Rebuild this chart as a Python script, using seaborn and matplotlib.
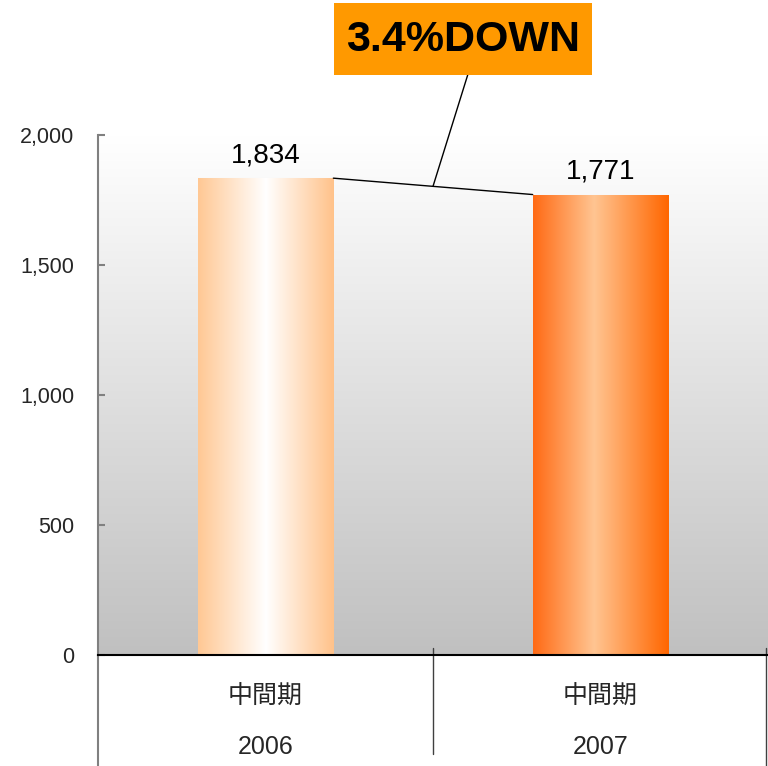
import numpy as np
import matplotlib
matplotlib.use("Agg")
import matplotlib.pyplot as plt
from matplotlib.colors import LinearSegmentedColormap
import seaborn as sns

sns.set_theme(style="white")
plt.rcParams['font.family'] = ['Liberation Sans', 'Noto Sans CJK JP']

# data
years = ["2006", "2007"]
periods = ["中間期", "中間期"]
sales = [1834, 1771]
change_label = "3.4%DOWN"

fig = plt.figure(figsize=(7.68, 7.66), dpi=100)
ax = fig.add_axes([98/768, 111/766, 670/768, 520/766])

sns.barplot(x=years, y=sales, width=0.405, color="#FFC590", ax=ax, zorder=2)

# background gradient white -> grey
bg = np.linspace(1, 0, 256).reshape(-1, 1)
bg_cmap = LinearSegmentedColormap.from_list("bg", ["#C0C0C0", "#FFFFFF"])
ax.imshow(bg, extent=[-0.5, 1.5, 0, 2000], aspect="auto", cmap=bg_cmap,
          origin="upper", zorder=0, vmin=0, vmax=1)
ax.patch.set_alpha(0)

# bar gradients
bar_cmaps = [
    LinearSegmentedColormap.from_list("b1", [(0, "#FFC894"), (0.5, "#FFFFFF"), (1, "#FFC28A")]),
    LinearSegmentedColormap.from_list("b2", [(0, "#FF6A14"), (0.45, "#FFC592"), (1, "#FF6600")]),
]
hgrad = np.linspace(0, 1, 256).reshape(1, -1)
for patch, cm in zip(ax.patches, bar_cmaps):
    x0, w, h = patch.get_x(), patch.get_width(), patch.get_height()
    patch.set_edgecolor("none")
    im = ax.imshow(hgrad, extent=[x0, x0 + w, 0, h], aspect="auto", cmap=cm,
                   zorder=3, vmin=0, vmax=1)
    im.set_clip_path(patch)
    ax.annotate(f"{int(h):,}", (x0 + w / 2, h), xytext=(0, 7), textcoords="offset points",
                ha="center", va="bottom", fontsize=20, color="black")

ax.set_xlim(-0.5, 1.5)
ax.set_ylim(0, 2000)
ax.set_yticks([0, 500, 1000, 1500, 2000])
ax.yaxis.set_major_formatter(matplotlib.ticker.FuncFormatter(lambda v, p: f"{int(v):,}"))
ax.tick_params(axis="y", direction="in", length=5, color="#808080", width=1.5,
               labelsize=15.5, pad=17, left=True)
ax.set_xticks([])
ax.set_xlabel("")
for s in ["top", "right"]:
    ax.spines[s].set_visible(False)
ax.spines["left"].set_color("#808080")
ax.spines["left"].set_linewidth(1.5)
ax.spines["bottom"].set_color("black")
ax.spines["bottom"].set_linewidth(1.5)
ax.spines["left"].set_zorder(5)
ax.spines["bottom"].set_zorder(5)

# category table below the axis
tr = ax.get_xaxis_transform()
ax.plot([-0.5, -0.5], [0, -0.22], transform=tr, color="#808080", lw=1.5, clip_on=False)
ax.plot([0.5, 0.5], [0.013, -0.19], transform=tr, color="#404040", lw=1, clip_on=False)
ax.plot([1.495, 1.495], [0.013, -0.22], transform=tr, color="#404040", lw=1, clip_on=False)
for i, (p, yr) in enumerate(zip(periods, years)):
    ax.text(i, -(697 - 655) / 520, p, transform=tr, ha="center", va="center", fontsize=18)
    ax.text(i, -(747 - 655) / 520, yr, transform=tr, ha="center", va="center", fontsize=18)

# connecting line between bar tops and callout
b1, b2 = ax.patches[0], ax.patches[1]
p1 = (b1.get_x() + b1.get_width(), b1.get_height())
p2 = (b2.get_x(), b2.get_height())
ax.plot([p1[0], p2[0]], [p1[1], p2[1]], color="black", lw=1, zorder=4, clip_on=False)
mid = ((p1[0] + p2[0]) / 2, (p1[1] + p2[1]) / 2)
ax.annotate("", xy=mid, xytext=(468/768, 1 - 74/766), textcoords="figure fraction",
            arrowprops=dict(arrowstyle="-", color="black", lw=1, shrinkA=0, shrinkB=0))

fig.patches.append(plt.Rectangle((334/768, 1 - 75/766), 258/768, 72/766,
                                 transform=fig.transFigure, facecolor="#FF9900",
                                 edgecolor="none", zorder=1))
fig.text(463/768, 1 - 40/766, change_label, ha="center", va="center",
         fontsize=31, fontweight="bold", color="black")

fig.savefig("out.png", dpi=100)
